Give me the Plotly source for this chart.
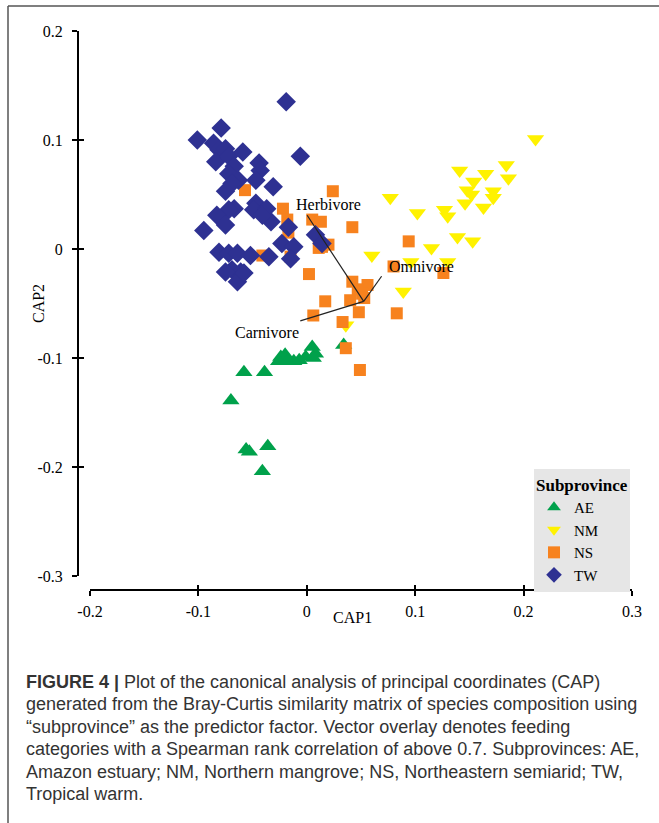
import plotly.graph_objects as go

# ---------------- data ----------------
ae_x = [0.034, 0.005, 0.008, -0.001, -0.007, -0.012, -0.020, -0.024, -0.026, -0.018,
        0.006, -0.058, -0.039, -0.070, -0.056, -0.053, -0.036, -0.041]
ae_y = [-0.088, -0.090, -0.096, -0.099, -0.102, -0.103, -0.097, -0.099, -0.103, -0.103,
        -0.100, -0.113, -0.113, -0.139, -0.184, -0.186, -0.181, -0.204]

nm_x = [0.211, 0.141, 0.184, 0.165, 0.186, 0.154, 0.148, 0.152, 0.172, 0.172,
        0.146, 0.163, 0.077, 0.102, 0.127, 0.130, 0.139, 0.153, 0.115, 0.060,
        0.096, 0.130, 0.089, 0.036]
nm_y = [0.101, 0.072, 0.077, 0.069, 0.065, 0.062, 0.054, 0.050, 0.053, 0.047,
        0.042, 0.038, 0.047, 0.033, 0.036, 0.030, 0.011, 0.007, 0.001, -0.006,
        -0.012, -0.012, -0.039, -0.070]

ns_x = [-0.057, 0.024, -0.022, -0.018, -0.017, 0.005, 0.013, 0.042, 0.020, 0.011,
        -0.015, -0.041, 0.094, 0.002, 0.042, 0.056, 0.051, 0.040, 0.017, 0.006,
        0.048, 0.033, 0.083, 0.126, 0.080, 0.036, 0.049, 0.047, 0.014, 0.053]
ns_y = [0.054, 0.053, 0.037, 0.027, 0.015, 0.027, 0.025, 0.020, 0.004, 0.001,
        -0.007, -0.006, 0.007, -0.023, -0.030, -0.033, -0.041, -0.047, -0.048, -0.061,
        -0.058, -0.067, -0.059, -0.022, -0.016, -0.091, -0.111, -0.037, 0.002, -0.045]

tw_x = [-0.019, -0.101, -0.079, -0.086, -0.081, -0.075, -0.084, -0.072, -0.067, -0.072,
        -0.063, -0.069, -0.075, -0.059, -0.006, -0.044, -0.043, -0.047, -0.031, -0.067,
        -0.072, -0.083, -0.075, -0.095, -0.047, -0.049, -0.037, -0.033, -0.041, -0.017,
        -0.023, -0.012, -0.015, 0.008, 0.014, -0.081, -0.072, -0.064, -0.052, -0.035,
        -0.069, -0.061, -0.064, -0.058, -0.075]
tw_y = [0.135, 0.100, 0.111, 0.097, 0.091, 0.092, 0.080, 0.085, 0.076, 0.069,
        0.063, 0.060, 0.053, 0.089, 0.085, 0.079, 0.072, 0.063, 0.057, 0.037,
        0.036, 0.031, 0.022, 0.017, 0.042, 0.036, 0.037, 0.025, 0.031, 0.020,
        0.005, 0.002, -0.009, 0.013, 0.005, -0.003, -0.004, -0.004, -0.006, -0.007,
        -0.019, -0.021, -0.030, -0.022, -0.021]

vec_origin = (0.0525, -0.048)
vec_names = ["Herbivore", "Omnivore", "Carnivore"]
vec_end_x = [0.0003, 0.069, -0.006]
vec_end_y = [0.031, -0.025, -0.066]
vec_label_x = [0.020, 0.106, -0.037]
vec_label_y = [0.041, -0.016, -0.077]

tick_vals_x = [-0.2, -0.1, 0, 0.1, 0.2, 0.3]
tick_text_x = ["-0.2", "-0.1", "0", "0.1", "0.2", "0.3"]
tick_vals_y = [-0.3, -0.2, -0.1, 0, 0.1, 0.2]
tick_text_y = ["-0.3", "-0.2", "-0.1", "0", "0.1", "0.2"]

caption_lines = [
    "<b>FIGURE 4 |</b> Plot of the canonical analysis of principal coordinates (CAP)",
    "generated from the Bray-Curtis similarity matrix of species composition using",
    "\u201csubprovince\u201d as the predictor factor. Vector overlay denotes feeding",
    "categories with a Spearman rank correlation of above 0.7. Subprovinces: AE,",
    "Amazon estuary; NM, Northern mangrove; NS, Northeastern semiarid; TW,",
    "Tropical warm.",
]

# ---------------- figure ----------------
W, H = 659, 823
ML, MR, MT, MB = 78, 27, 31, 233
PW, PH = W - ML - MR, H - MT - MB


def px2x(px):
    return (px - ML) / PW


def py2y(py):
    return (H - MB - py) / PH


SERIF = "Liberation Serif"
fig = go.Figure()

fig.add_trace(go.Scatter(x=nm_x, y=nm_y, mode="markers", name="NM", legendrank=2,
                         marker=dict(symbol="triangle-down", size=15, color="#fff200")))
fig.add_trace(go.Scatter(x=ae_x, y=ae_y, mode="markers", name="AE", legendrank=1,
                         marker=dict(symbol="triangle-up", size=15, color="#00a14b")))
fig.add_trace(go.Scatter(x=ns_x, y=ns_y, mode="markers", name="NS", legendrank=3,
                         marker=dict(symbol="square", size=12, color="#f7821e")))
fig.add_trace(go.Scatter(x=tw_x, y=tw_y, mode="markers", name="TW", legendrank=4,
                         marker=dict(symbol="diamond", size=15, color="#2e3192")))

for i, nm in enumerate(vec_names):
    fig.add_trace(go.Scatter(x=[vec_origin[0], vec_end_x[i]], y=[vec_origin[1], vec_end_y[i]],
                             mode="lines", line=dict(color="#222222", width=1.2),
                             showlegend=False, hoverinfo="skip"))
    fig.add_annotation(x=vec_label_x[i], y=vec_label_y[i], text=nm, showarrow=False,
                       xanchor="center", yanchor="middle",
                       font=dict(family=SERIF, size=16, color="black"))

# helper trace for inner half of the crossing ticks
fig.add_trace(go.Scatter(x=[None], y=[None], xaxis="x2", yaxis="y2", showlegend=False))

xdom = [px2x(90), 1]
ydom = [py2y(576), 1]
axis_common = dict(showgrid=False, zeroline=False)
fig.update_layout(
    width=W, height=H, autosize=False,
    margin=dict(l=ML, r=MR, t=MT, b=MB),
    paper_bgcolor="white", plot_bgcolor="white",
    xaxis=dict(domain=xdom, range=[-0.2, 0.3], anchor="free", position=0,
               showline=True, linecolor="black", linewidth=2,
               ticks="outside", ticklen=5, tickwidth=2, tickcolor="black",
               tickvals=tick_vals_x, ticktext=tick_text_x, ticklabelstandoff=2,
               tickfont=dict(family=SERIF, size=16, color="black"), **axis_common),
    yaxis=dict(domain=ydom, range=[-0.3, 0.2], anchor="free", position=0,
               showline=True, linecolor="black", linewidth=2,
               ticks="outside", ticklen=5, tickwidth=2, tickcolor="black",
               tickvals=tick_vals_y, ticktext=tick_text_y, ticklabelstandoff=6,
               tickfont=dict(family=SERIF, size=16, color="black"), **axis_common),
    xaxis2=dict(domain=xdom, range=[-0.2, 0.3], anchor="free", position=0, overlaying="x",
                showline=False, ticks="inside", ticklen=5, tickwidth=2, tickcolor="black",
                tickvals=tick_vals_x, showticklabels=False, **axis_common),
    yaxis2=dict(domain=ydom, range=[-0.3, 0.2], anchor="free", position=0, overlaying="y",
                showline=False, ticks="inside", ticklen=5, tickwidth=2, tickcolor="black",
                tickvals=tick_vals_y, showticklabels=False, **axis_common),
    legend=dict(x=px2x(534), y=py2y(469), xanchor="left", yanchor="top",
                bgcolor="#e6e6e6", borderwidth=0,
                title=dict(text="<b>Subprovince</b>", font=dict(family=SERIF, size=17, color="black")),
                font=dict(family=SERIF, size=15, color="black"),
                itemsizing="constant", tracegroupgap=0),
    showlegend=True,
)

# axis titles
fig.add_annotation(xref="paper", yref="paper", x=px2x(352), y=py2y(617), text="CAP1",
                   xanchor="center", yanchor="middle",
                   showarrow=False, font=dict(family=SERIF, size=16, color="black"))
fig.add_annotation(xref="paper", yref="paper", x=px2x(38), y=py2y(304), text="CAP2",
                   xanchor="center", yanchor="middle",
                   textangle=-90, showarrow=False, font=dict(family=SERIF, size=16, color="black"))

# caption
for i, line in enumerate(caption_lines):
    fig.add_annotation(xref="paper", yref="paper", x=px2x(24), y=py2y(682 + 22.4 * i),
                       xanchor="left", yanchor="middle", text=line, showarrow=False,
                       font=dict(family="Liberation Sans", size=18, color="#333333"))

# figure frame (top and left)
fig.add_shape(type="line", xref="paper", yref="paper", x0=px2x(8), x1=px2x(659),
              y0=py2y(6), y1=py2y(6), line=dict(color="#555555", width=1.5))
fig.add_shape(type="line", xref="paper", yref="paper", x0=px2x(8), x1=px2x(8),
              y0=py2y(6), y1=py2y(823), line=dict(color="#555555", width=1.5))

fig.write_html("out.html", config={"displayModeBar": False},
               post_script="document.body.style.margin='0';")
